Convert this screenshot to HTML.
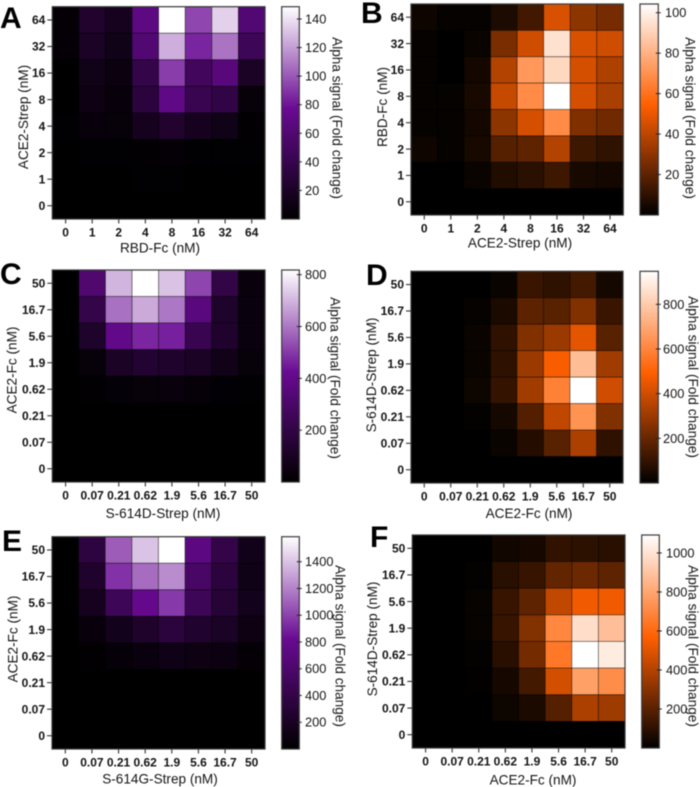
<!DOCTYPE html>
<html lang="en">
<head>
<meta charset="utf-8">
<title>Alpha signal heatmaps</title>
<style>
html,body{margin:0;padding:0;background:#fff;width:700px;height:787px;overflow:hidden}
#figure{display:block;width:700px;height:787px;filter:blur(0.45px)}
text{font-family:"Liberation Sans",Arial,sans-serif;fill:#141414}
.tick{font-size:12px;font-weight:bold}
.cbtick{font-size:12.8px}
.title{font-size:13.6px}
.letter{font-size:30px;font-weight:bold;fill:#000}
</style>
</head>
<body>
<svg id="figure" xmlns="http://www.w3.org/2000/svg" width="700" height="787" viewBox="0 0 700 787">
<defs>
<linearGradient id="grad-purple" x1="0" y1="1" x2="0" y2="0">
<stop offset="0" stop-color="#000"/><stop offset="0.52" stop-color="#6a0a94"/><stop offset="1" stop-color="#fff"/>
</linearGradient>
<linearGradient id="grad-orange" x1="0" y1="1" x2="0" y2="0">
<stop offset="0" stop-color="#000"/><stop offset="0.52" stop-color="#ff5f00"/><stop offset="1" stop-color="#fff"/>
</linearGradient>
</defs>
</svg>
<script>
const concA = ["0","1","2","4","8","16","32","64"];
const concA_rev = ["64","32","16","8","4","2","1","0"];
const concB = ["0","0.07","0.21","0.62","1.9","5.6","16.7","50"];
const concB_rev = ["50","16.7","5.6","1.9","0.62","0.21","0.07","0"];

const ticksA = [20,40,60,80,100,120,140];
const ticksB = [20,40,60,80,100];
const ticksC = [200,400,600,800];
const ticksD = [200,400,600,800];
const ticksE = [200,400,600,800,1000,1200,1400];
const ticksF = [200,400,600,800,1000];

const maxA = 148.6;
const maxB = 104.3;
const maxC = 818;
const maxD = 948;
const maxE = 1587;
const maxF = 1092;

const valuesA = [
[3,24,16,68,148.6,95,135,60],
[3,20,12,60,125,85,108,45],
[0.5,12,8,38,92,48,65,20],
[0.5,10,6,32,70,42,36,5],
[1,6,5,16,24,16,12,2],
[0.5,1,1,2,3,1,1,1],
[0,0,0,1,1,0,0,0],
[0,0,0,0,0,0,0,0]];
const valuesB = [
[3,1,1,6,14,46,30,25],
[1,0,2,26,44,95,46,44],
[1,0,4,38,72,92,45,37],
[1,1,5,42,68,104.3,45,36],
[1,1,4,30,45,68,27,24],
[3,1,5,18,20,38,13,10],
[0,0,2,7,9,13,5,4],
[0,0,0,0,0,0,0,0]];
const valuesC = [
[0,320,700,818,720,520,200,35],
[0,210,590,680,600,360,120,40],
[0,120,390,470,460,230,130,40],
[0,30,110,140,130,110,70,30],
[0,10,22,30,35,26,14,6],
[0,1,2,3,3,2,1,1],
[0,0,0,0,0,0,0,0],
[0,0,0,0,0,0,0,0]];
const valuesD = [
[0,0,0,20,110,90,130,40],
[0,0,12,50,180,170,250,110],
[0,0,20,90,250,300,440,170],
[0,0,20,90,300,480,760,310],
[0,0,25,100,310,590,948,400],
[0,0,8,40,160,370,640,250],
[0,0,2,20,70,170,330,90],
[0,0,0,0,0,0,0,0]];
const valuesE = [
[0,350,1080,1400,1587,720,400,140],
[0,250,950,1130,1230,560,340,120],
[0,170,480,780,970,480,300,150],
[0,60,150,240,340,260,210,100],
[0,15,50,70,120,100,90,30],
[0,0,1,2,3,3,3,2],
[0,0,0,0,0,0,0,0],
[0,0,0,0,0,0,0,0]];
const valuesF = [
[0,0,0,40,50,110,100,90],
[0,0,10,90,120,220,240,210],
[0,0,15,120,210,430,540,540],
[0,0,15,120,290,700,980,880],
[0,0,10,90,260,650,1092,1030],
[0,0,5,50,150,470,780,720],
[0,0,2,30,60,190,380,350],
[0,0,0,0,0,0,0,0]];

const panels = [
 {id:"a",letter:"A",lx:0,ly:28,x0:52.3,x1:265,y0:6.7,y1:219,cb0:281.7,cb1:299.3,ctx:305,ytx:23.5,yty:117,ctitleX:337,ctitleY:118,xtx:160,xto:33.5,xName:"RBD-Fc (nM)",yName:"ACE2-Strep (nM)",xCats:concA,yCats:concA_rev,values:valuesA,ticks:ticksA,max:maxA,hue:"purple"},
 {id:"b",letter:"B",lx:361,ly:23,x0:411,x1:623.3,y0:4,y1:215,cb0:640,cb1:658.3,ctx:665,ytx:382.5,yty:107,ctitleX:690,ctitleY:118,xtx:520,xto:32.5,xName:"ACE2-Strep (nM)",yName:"RBD-Fc (nM)",xCats:concA,yCats:concA_rev,values:valuesB,ticks:ticksB,max:maxB,hue:"orange"},
 {id:"c",letter:"C",lx:0,ly:284,x0:52.3,x1:265,y0:270,y1:482,cb0:281.7,cb1:299.3,ctx:305,ytx:12,yty:370,ctitleX:335,ctitleY:378,xtx:163,xto:36,xName:"S-614D-Strep (nM)",yName:"ACE2-Fc (nM)",xCats:concB,yCats:concB_rev,values:valuesC,ticks:ticksC,max:maxC,hue:"purple"},
 {id:"d",letter:"D",lx:366,ly:285,x0:411,x1:623,y0:271.3,y1:483,cb0:640,cb1:658.3,ctx:663,ytx:371.5,yty:375,ctitleX:693,ctitleY:377,xtx:529,xto:35,xName:"ACE2-Fc (nM)",yName:"S-614D-Strep (nM)",xCats:concB,yCats:concB_rev,values:valuesD,ticks:ticksD,max:maxD,hue:"orange"},
 {id:"e",letter:"E",lx:2,ly:551,x0:52,x1:265,y0:536.7,y1:749,cb0:281.7,cb1:299.3,ctx:305,ytx:13,yty:639,ctitleX:340,ctitleY:646,xtx:160,xto:34.5,xName:"S-614G-Strep (nM)",yName:"ACE2-Fc (nM)",xCats:concB,yCats:concB_rev,values:valuesE,ticks:ticksE,max:maxE,hue:"purple"},
 {id:"f",letter:"F",lx:370,ly:547,x0:412.3,x1:625,y0:535,y1:748,cb0:641.7,cb1:659.3,ctx:666,ytx:372.5,yty:639,ctitleX:693,ctitleY:646,xtx:533,xto:36.5,xName:"ACE2-Fc (nM)",yName:"S-614D-Strep (nM)",xCats:concB,yCats:concB_rev,values:valuesF,ticks:ticksF,max:maxF,hue:"orange"}
];

const NS = "http://www.w3.org/2000/svg";
const root = document.getElementById("figure");
const stops = {purple:[106,10,148], orange:[255,95,0]};
const MID = 0.52;

function colour(value, max, hue){
  const t = Math.max(0, Math.min(1, value / max));
  const m = stops[hue];
  const mix = t < MID
    ? m.map(c => c * t / MID)
    : m.map(c => c + (255 - c) * (t - MID) / (1 - MID));
  return "rgb(" + mix.map(Math.round).join(",") + ")";
}
function make(tag, attrs, parent, text){
  const el = document.createElementNS(NS, tag);
  for (const k in attrs) el.setAttribute(k, attrs[k]);
  if (text !== undefined) el.textContent = text;
  parent.appendChild(el);
  return el;
}

panels.forEach(p => {
  const g = make("g", {}, root);
  
  

  const xBand = i => p.x0 + (p.x1 - p.x0) * i / p.xCats.length;
  const yBand = i => p.y0 + (p.y1 - p.y0) * i / p.yCats.length;
  const bw = (p.x1 - p.x0) / p.xCats.length;
  const bh = (p.y1 - p.y0) / p.yCats.length;
  const cbY = v => p.y1 - (p.y1 - p.y0) * v / p.max;

  const letter = make("text", {x:p.lx, y:p.ly, class:"letter"}, g, p.letter);
  
  

  const backing = make("rect", {x:p.x0, y:p.y0, width:p.x1 - p.x0, height:p.y1 - p.y0, fill:"#000"}, g);
  
  

  p.values.forEach((row, r) => row.forEach((v, c) => {
    const cell = make("rect", {x:xBand(c), y:yBand(r), width:bw, height:bh, fill:colour(v, p.max, p.hue), stroke:"rgba(0,0,0,0.5)", "stroke-width":0.7}, g);
    
    
  }));

  const frame = make("rect", {x:p.x0, y:p.y0, width:p.x1 - p.x0, height:p.y1 - p.y0, fill:"none", stroke:"#3a3a3a", "stroke-width":1.2}, g);
  
  

  p.xCats.forEach((label, i) => {
    const cx = xBand(i) + bw / 2;
    const t = make("line", {x1:cx, x2:cx, y1:p.y1, y2:p.y1 + 4.5, stroke:"#333", "stroke-width":1.1}, g);
    
    
    const l = make("text", {x:cx, y:p.y1 + 17.5, "text-anchor":"middle", class:"tick"}, g, label);
    
    
  });
  p.yCats.forEach((label, i) => {
    const cy = yBand(i) + bh / 2;
    const t = make("line", {x1:p.x0 - 5, x2:p.x0, y1:cy, y2:cy, stroke:"#333", "stroke-width":1.1}, g);
    
    
    const l = make("text", {x:p.x0 - 7, y:cy + 4.2, "text-anchor":"end", class:"tick"}, g, label);
    
    
  });

  const xTitle = make("text", {x:p.xtx, y:p.y1 + p.xto, "text-anchor":"middle", class:"title"}, g, p.xName);
  
  
  const yTitle = make("text", {transform:"translate(" + (p.ytx + 4.5) + "," + p.yty + ") rotate(-90)", "text-anchor":"middle", class:"title"}, g, p.yName);
  
  

  const bar = make("rect", {x:p.cb0, y:p.y0, width:p.cb1 - p.cb0, height:p.y1 - p.y0, fill:"url(#grad-" + p.hue + ")", stroke:"#3a3a3a", "stroke-width":1.2}, g);
  
  

  p.ticks.forEach(v => {
    const y = cbY(v);
    const t = make("line", {x1:p.cb1 - 2.5, x2:p.cb1 + 2.5, y1:y, y2:y, stroke:"#222", "stroke-width":1}, g);
    
    
    const l = make("text", {x:p.ctx, y:y + 4.5, class:"cbtick"}, g, String(v));
    
    
  });

  const cTitle = make("text", {transform:"translate(" + (p.ctitleX - 4.5) + "," + p.ctitleY + ") rotate(90)", "text-anchor":"middle", class:"title"}, g, "Alpha signal (Fold change)");
  
  
});
</script>
</body>
</html>
